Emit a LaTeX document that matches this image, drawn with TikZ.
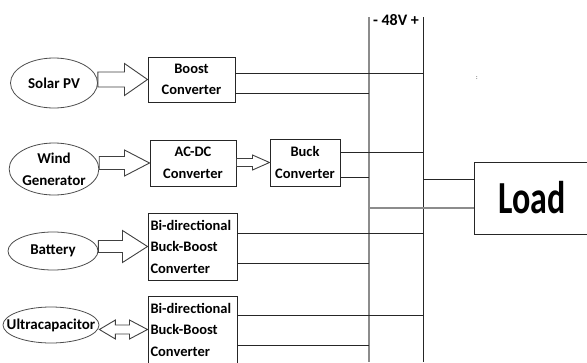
\documentclass[tikz,border=0pt]{standalone}
\usepackage{fontspec}
\setmainfont{Carlito}
\usepackage{tikz}
\usetikzlibrary{positioning,calc,shapes.geometric}

% fat arrow from the east side of #1 to the west side of #2
\newcommand{\fatarrow}[5]{%
  \draw[blockarrow] let \p1=(#1.east), \p2=(#2.west) in
    (\x1,\y2+#3pt) -- (\x2-#5pt,\y2+#3pt) -- (\x2-#5pt,\y2+#4pt) -- (\p2)
    -- (\x2-#5pt,\y2-#4pt) -- (\x2-#5pt,\y2-#3pt) -- (\x1,\y2-#3pt) -- cycle;}

\begin{document}
\begin{tikzpicture}[x=1pt,y=-1pt,
    line width=1pt,
    src/.style={draw=black!70,ellipse,inner sep=0pt,align=center,line width=0.8pt,
      font=\fontsize{15}{22}\selectfont\bfseries},
    conv/.style={draw=black!85,inner sep=2pt,align=center,
      font=\fontsize{14.5}{21.5}\selectfont\bfseries},
    blockarrow/.style={draw=black!75,line width=0.9pt,fill=white},
    busline/.style={draw=black!85},
    minusline/.style={draw=black!45,line width=1.6pt}]
  \useasboundingbox (0,0) rectangle (587,362);

  % sources
  \node[src,minimum width=87,minimum height=50] (pv) at (54,83) {Solar PV};
  \node[src,minimum width=87,minimum height=52] (wind) at (54,169) {Wind\\Generator};
  \node[src,minimum width=90,minimum height=38] (batt) at (53,251) {Battery};
  \node[src,inner xsep=-20pt,minimum width=96,minimum height=36] (uc) at (51,325) {Ultracapacitor};

  % converters
  \node[conv,minimum width=87,minimum height=45] (boost) at (191.5,79.5) {Boost\\Converter};
  \node[conv,minimum width=86,minimum height=46] (acdc) at (193,163) {AC-DC\\Converter};
  \node[conv,minimum width=70,minimum height=47] (buck) at (305,162.5) {Buck\\Converter};
  \node[conv,minimum width=89,minimum height=67,align=left,text width=84] (bbbatt)
    at (192.5,246.5) {Bi-directional\\Buck-Boost\\Converter};
  \node[conv,minimum width=89,minimum height=67,align=left,text width=84] (bbuc)
    at (192.5,329.5) {Bi-directional\\Buck-Boost\\Converter};

  % load
  \node[draw=black!85,minimum width=116,minimum height=72] (load) at (532,198)
    {\fontsize{34}{40}\selectfont\bfseries\scalebox{1}[1.35]{Load}};

  % dc bus
  \coordinate (mtop) at (369,17);
  \coordinate (mbot) at (369,362);
  \coordinate (ptop) at (423,17);
  \coordinate (pbot) at (423,362);
  \draw[minusline] (mtop) -- (mbot);
  \draw[busline] (ptop) -- (pbot);
  \node[font=\fontsize{16}{18}\selectfont\bfseries] (vbus) at (396,20) {- 48V +};
  \node[font=\fontsize{6}{7}\selectfont] (dots) at (477,78) {:};

  % power flow arrows
  \fatarrow{pv}{boost}{7.5}{16}{23}
  \fatarrow{wind}{acdc}{6.5}{13}{25}
  \fatarrow{acdc}{buck}{4}{7.5}{17}
  \fatarrow{batt}{bbbatt}{6}{16}{25}
  \draw[blockarrow] let \p1=(uc.east), \p2=(bbuc.west) in
    (\x1,\y2) -- (\x1+16pt,\y2+9.5pt) -- (\x1+16pt,\y2+4.5pt) -- (\x2-18pt,\y2+4.5pt)
    -- (\x2-18pt,\y2+9.5pt) -- (\p2) -- (\x2-18pt,\y2-9.5pt) -- (\x2-18pt,\y2-4.5pt)
    -- (\x1+16pt,\y2-4.5pt) -- (\x1+16pt,\y2-9.5pt) -- cycle;

  % converters to bus
  \draw[busline] ([yshift=6.5pt]boost.east) -- ([yshift=6.5pt]boost.east -| ptop);
  \draw[busline] ([yshift=-13.5pt]boost.east) -- ([yshift=-13.5pt]boost.east -| mtop);
  \draw[busline] ([yshift=10.5pt]buck.east) -- ([yshift=10.5pt]buck.east -| ptop);
  \draw[busline] ([yshift=-14.5pt]buck.east) -- ([yshift=-14.5pt]buck.east -| mtop);
  \draw[busline] ([yshift=13.5pt]bbbatt.east) -- ([yshift=13.5pt]bbbatt.east -| ptop);
  \draw[busline] ([yshift=-16.5pt]bbbatt.east) -- ([yshift=-16.5pt]bbbatt.east -| mtop);
  \draw[busline] ([yshift=14.5pt]bbuc.east) -- ([yshift=14.5pt]bbuc.east -| ptop);
  \draw[busline] ([yshift=-15.5pt]bbuc.east) -- ([yshift=-15.5pt]bbuc.east -| mtop);

  % bus to load
  \draw[busline] ([yshift=19pt]load.west -| ptop) -- ([yshift=19pt]load.west);
  \draw[minusline,line width=1.2pt] ([yshift=-10pt]load.west -| mtop) -- ([yshift=-10pt]load.west);
\end{tikzpicture}
\end{document}
